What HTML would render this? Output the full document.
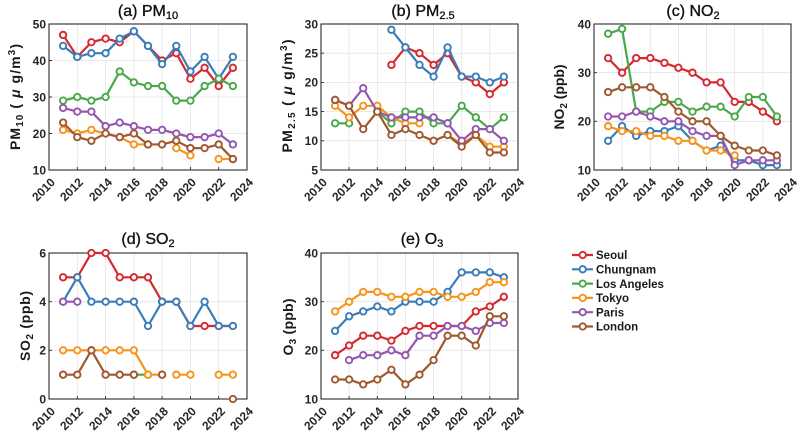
<!DOCTYPE html>
<html><head><meta charset="utf-8"><style>
html,body{margin:0;padding:0;background:#fff;}
#wrap{position:relative;width:800px;height:436px;overflow:hidden;}
svg{display:block;position:absolute;left:0;top:0;font-family:"Liberation Sans",Arial,sans-serif;}
.g{stroke:#e4e4e4;stroke-width:0.8;fill:none}
.ax{stroke:#2b2b2b;stroke-width:1.1;fill:none}
.tk{stroke:#2b2b2b;stroke-width:0.9;fill:none}
.yt{font-size:12px;font-weight:bold;fill:#262626;text-anchor:end}
.yl{font-size:14px;font-weight:bold;fill:#1a1a1a;text-anchor:middle}
.ti{font-size:16px;fill:#111;text-anchor:middle;stroke:#111;stroke-width:0.35}
.lg{font-size:11.5px;font-weight:bold;fill:#1a1a1a}
polyline{fill:none;stroke-width:2.2;stroke-linejoin:round;stroke-linecap:round}
.s1{stroke:#d7282f;marker-start:url(#m1);marker-mid:url(#m1);marker-end:url(#m1)}
.s2{stroke:#3a7db8;marker-start:url(#m2);marker-mid:url(#m2);marker-end:url(#m2)}
.s3{stroke:#4aa84a;marker-start:url(#m3);marker-mid:url(#m3);marker-end:url(#m3)}
.s4{stroke:#f7941d;marker-start:url(#m4);marker-mid:url(#m4);marker-end:url(#m4)}
.s5{stroke:#9457b0;marker-start:url(#m5);marker-mid:url(#m5);marker-end:url(#m5)}
.s6{stroke:#a0582f;marker-start:url(#m6);marker-mid:url(#m6);marker-end:url(#m6)}
.xl{position:absolute;width:40px;height:12px;line-height:12px;font-family:"Liberation Sans",Arial,sans-serif;font-size:12px;font-weight:bold;color:#262626;text-align:right;-webkit-transform-origin:40px 10.16px;transform-origin:40px 10.16px;-webkit-transform:rotate(-45deg);transform:rotate(-45deg);white-space:nowrap;}
.r1{top:172.84px}
.r2{top:401.84px}
</style></head><body>
<div id="wrap">
<svg width="800" height="436" viewBox="0 0 800 436" xmlns="http://www.w3.org/2000/svg">
<defs>
<marker id="m1" markerUnits="userSpaceOnUse" viewBox="-5 -5 10 10" refX="0" refY="0" markerWidth="10" markerHeight="10" overflow="visible"><circle r="3.2" fill="#fff" stroke="#d7282f" stroke-width="1.9"/></marker>
<marker id="m2" markerUnits="userSpaceOnUse" viewBox="-5 -5 10 10" refX="0" refY="0" markerWidth="10" markerHeight="10" overflow="visible"><circle r="3.2" fill="#fff" stroke="#3a7db8" stroke-width="1.9"/></marker>
<marker id="m3" markerUnits="userSpaceOnUse" viewBox="-5 -5 10 10" refX="0" refY="0" markerWidth="10" markerHeight="10" overflow="visible"><circle r="3.2" fill="#fff" stroke="#4aa84a" stroke-width="1.9"/></marker>
<marker id="m4" markerUnits="userSpaceOnUse" viewBox="-5 -5 10 10" refX="0" refY="0" markerWidth="10" markerHeight="10" overflow="visible"><circle r="3.2" fill="#fff" stroke="#f7941d" stroke-width="1.9"/></marker>
<marker id="m5" markerUnits="userSpaceOnUse" viewBox="-5 -5 10 10" refX="0" refY="0" markerWidth="10" markerHeight="10" overflow="visible"><circle r="3.2" fill="#fff" stroke="#9457b0" stroke-width="1.9"/></marker>
<marker id="m6" markerUnits="userSpaceOnUse" viewBox="-5 -5 10 10" refX="0" refY="0" markerWidth="10" markerHeight="10" overflow="visible"><circle r="3.2" fill="#fff" stroke="#a0582f" stroke-width="1.9"/></marker>
</defs>

<!-- ===== Panel (a) PM10 ===== -->
<path class="g" d="M77.3 24V170M105.6 24V170M133.9 24V170M162.1 24V170M190.4 24V170M218.7 24V170M49 60.5H247M49 97H247M49 133.5H247"/>
<path class="tk" d="M77.3 170v-3M105.6 170v-3M133.9 170v-3M162.1 170v-3M190.4 170v-3M218.7 170v-3M49 60.5h3M49 97h3M49 133.5h3"/>
<rect class="ax" x="49" y="24" width="198" height="146"/>
<polyline class="s1" points="63.1,34.95 77.3,56.85 91.4,42.25 105.6,38.6 119.7,42.25 133.9,31.3 148,45.9 162.1,60.5 176.3,53.2 190.4,78.75 204.6,67.8 218.7,86.05 232.9,67.8"/>
<polyline class="s2" points="63.1,45.9 77.3,56.85 91.4,53.2 105.6,53.2 119.7,38.6 133.9,31.3 148,45.9 162.1,64.15 176.3,45.9 190.4,71.45 204.6,56.85 218.7,78.75 232.9,56.85"/>
<polyline class="s3" points="63.1,100.65 77.3,97 91.4,100.65 105.6,97 119.7,71.45 133.9,82.4 148,86.05 162.1,86.05 176.3,100.65 190.4,100.65 204.6,86.05 218.7,78.75 232.9,86.05"/>
<polyline class="s4" points="63.1,129.85 77.3,133.5 91.4,129.85 105.6,133.5 119.7,137.15 133.9,144.45 148,144.45"/>
<polyline class="s4" points="176.3,148.1 190.4,155.4"/>
<polyline class="s4" points="218.7,159.05 232.9,159.05"/>
<polyline class="s5" points="63.1,107.95 77.3,111.6 91.4,111.6 105.6,126.2 119.7,122.55 133.9,126.2 148,129.85 162.1,129.85 176.3,133.5 190.4,137.15 204.6,137.15 218.7,133.5 232.9,144.45"/>
<polyline class="s6" points="63.1,122.55 77.3,137.15 91.4,140.8 105.6,133.5 119.7,137.15 133.9,133.5 148,144.45 162.1,144.45 176.3,140.8 190.4,148.1 204.6,148.1 218.7,144.45 232.9,159.05"/>
<text class="yt" x="46" y="174.3">10</text><text class="yt" x="46" y="137.8">20</text><text class="yt" x="46" y="101.3">30</text><text class="yt" x="46" y="64.8">40</text><text class="yt" x="46" y="28.3">50</text>
<text class="ti" x="148" y="16">(a) PM<tspan font-size="11" dy="3">10</tspan></text>
<text class="yl" transform="translate(20,97) rotate(-90)" textLength="106" lengthAdjust="spacing">PM<tspan font-size="10" dy="3">10</tspan><tspan dy="-3"> ( </tspan><tspan font-style="italic">μ</tspan> g/m<tspan font-size="10" dy="-5">3</tspan><tspan dy="5">)</tspan></text>

<!-- ===== Panel (b) PM2.5 ===== -->
<path class="g" d="M349.1 24V170M377.3 24V170M405.4 24V170M433.6 24V170M461.7 24V170M489.8 24V170M321 53.2H518M321 82.4H518M321 111.6H518M321 140.8H518"/>
<path class="tk" d="M349.1 170v-3M377.3 170v-3M405.4 170v-3M433.6 170v-3M461.7 170v-3M489.8 170v-3M321 53.2h3M321 82.4h3M321 111.6h3M321 140.8h3"/>
<rect class="ax" x="321" y="24" width="197" height="146"/>
<polyline class="s1" points="391.4,64.9 405.4,47.4 419.5,53.2 433.6,64.9 447.6,53.2 461.7,76.6 475.8,82.4 489.8,94.1 503.9,82.4"/>
<polyline class="s2" points="391.4,29.8 405.4,47.4 419.5,64.9 433.6,76.6 447.6,47.4 461.7,76.6 475.8,76.6 489.8,82.4 503.9,76.6"/>
<polyline class="s3" points="335.1,123.3 349.1,123.3"/>
<polyline class="s3" points="377.3,111.6 391.4,123.3 405.4,111.6 419.5,111.6 433.6,123.3 447.6,123.3 461.7,105.8 475.8,117.4 489.8,129.1 503.9,117.4"/>
<polyline class="s4" points="335.1,105.8 349.1,117.4 363.2,105.8 377.3,105.8 391.4,117.4 405.4,123.3 419.5,123.3"/>
<polyline class="s4" points="447.6,135 461.7,143.7 475.8,135 489.8,146.6 503.9,146.6"/>
<polyline class="s5" points="335.1,99.9 349.1,105.8 363.2,88.2 377.3,111.6 391.4,117.4 405.4,117.4 419.5,117.4 433.6,117.4 447.6,123.3 461.7,140.8 475.8,129.1 489.8,129.1 503.9,140.8"/>
<polyline class="s6" points="335.1,99.9 349.1,105.8 363.2,129.1 377.3,111.6 391.4,135 405.4,129.1 419.5,135 433.6,140.8 447.6,135 461.7,146.6 475.8,135 489.8,152.5 503.9,152.5"/>
<text class="yt" x="318" y="174.3">5</text><text class="yt" x="318" y="145.1">10</text><text class="yt" x="318" y="115.9">15</text><text class="yt" x="318" y="86.7">20</text><text class="yt" x="318" y="57.5">25</text><text class="yt" x="318" y="28.3">30</text>
<text class="ti" x="423" y="16">(b) PM<tspan font-size="11" dy="3">2.5</tspan></text>
<text class="yl" transform="translate(292,96) rotate(-90)" textLength="113" lengthAdjust="spacing">PM<tspan font-size="10" dy="3">2.5</tspan><tspan dy="-3"> ( </tspan><tspan font-style="italic">μ</tspan> g/m<tspan font-size="10" dy="-5">3</tspan><tspan dy="5">)</tspan></text>

<!-- ===== Panel (c) NO2 ===== -->
<path class="g" d="M622.1 24V170M650.3 24V170M678.4 24V170M706.6 24V170M734.7 24V170M762.8 24V170M594 72.7H791M594 121.3H791"/>
<path class="tk" d="M622.1 170v-3M650.3 170v-3M678.4 170v-3M706.6 170v-3M734.7 170v-3M762.8 170v-3M594 72.7h3M594 121.3h3"/>
<rect class="ax" x="594" y="24" width="197" height="146"/>
<polyline class="s1" points="608.1,58.1 622.1,72.7 636.2,58.1 650.3,58.1 664.4,62.9 678.4,67.8 692.5,72.7 706.6,82.4 720.6,82.4 734.7,101.9 748.8,101.9 762.8,111.6 776.9,121.3"/>
<polyline class="s2" points="608.1,140.8 622.1,126.2 636.2,135.9 650.3,131.1 664.4,131.1 678.4,126.2 692.5,140.8 706.6,150.5 720.6,145.7 734.7,160.3 748.8,160.3 762.8,165.1 776.9,165.1"/>
<polyline class="s3" points="608.1,33.7 622.1,28.9 636.2,111.6 650.3,111.6 664.4,101.9 678.4,101.9 692.5,111.6 706.6,106.7 720.6,106.7 734.7,116.5 748.8,97 762.8,97 776.9,116.5"/>
<polyline class="s4" points="608.1,126.2 622.1,131.1 636.2,131.1 650.3,135.9 664.4,135.9 678.4,140.8 692.5,140.8 706.6,150.5 720.6,150.5 734.7,155.4"/>
<polyline class="s5" points="608.1,116.5 622.1,116.5 636.2,111.6 650.3,116.5 664.4,121.3 678.4,121.3 692.5,131.1 706.6,135.9 720.6,135.9 734.7,165.1 748.8,160.3 762.8,160.3 776.9,160.3"/>
<polyline class="s6" points="608.1,92.1 622.1,87.3 636.2,87.3 650.3,87.3 664.4,97 678.4,111.6 692.5,121.3 706.6,121.3 720.6,135.9 734.7,145.7 748.8,150.5 762.8,150.5 776.9,155.4"/>
<text class="yt" x="591" y="174.3">10</text><text class="yt" x="591" y="125.6">20</text><text class="yt" x="591" y="77">30</text><text class="yt" x="591" y="28.3">40</text>
<text class="ti" x="693" y="16">(c) NO<tspan font-size="11" dy="3">2</tspan></text>
<text class="yl" transform="translate(564,97) rotate(-90)" textLength="65" lengthAdjust="spacing">NO<tspan font-size="10" dy="3">2</tspan><tspan dy="-3"> (ppb)</tspan></text>

<!-- ===== Panel (d) SO2 ===== -->
<path class="g" d="M77.3 253V399M105.6 253V399M133.9 253V399M162.1 253V399M190.4 253V399M218.7 253V399M49 301.7H247M49 350.3H247"/>
<path class="tk" d="M77.3 399v-3M105.6 399v-3M133.9 399v-3M162.1 399v-3M190.4 399v-3M218.7 399v-3M49 301.7h3M49 350.3h3"/>
<rect class="ax" x="49" y="253" width="198" height="146"/>
<polyline class="s1" points="63.1,277.3 77.3,277.3 91.4,253 105.6,253 119.7,277.3 133.9,277.3 148,277.3 162.1,301.7 176.3,301.7 190.4,326 204.6,326 218.7,326 232.9,326"/>
<polyline class="s2" points="63.1,301.7 77.3,277.3 91.4,301.7 105.6,301.7 119.7,301.7 133.9,301.7 148,326 162.1,301.7 176.3,301.7 190.4,326 204.6,301.7 218.7,326 232.9,326"/>
<polyline class="s3" points="133.9,374.7 148,374.7"/>
<polyline class="s4" points="63.1,350.3 77.3,350.3 91.4,350.3 105.6,350.3 119.7,350.3 133.9,350.3 148,374.7 162.1,374.7"/>
<polyline class="s4" points="176.3,374.7 190.4,374.7"/>
<polyline class="s4" points="218.7,374.7 232.9,374.7"/>
<polyline class="s5" points="63.1,301.7 77.3,301.7"/>
<polyline class="s6" points="63.1,374.7 77.3,374.7 91.4,350.3 105.6,374.7 119.7,374.7 133.9,374.7"/>
<circle cx="162.1" cy="374.7" r="3.2" fill="#fff" stroke="#a0582f" stroke-width="1.9"/>
<circle cx="232.9" cy="399" r="3.2" fill="#fff" stroke="#a0582f" stroke-width="1.9"/>
<text class="yt" x="46" y="403.3">0</text><text class="yt" x="46" y="354.6">2</text><text class="yt" x="46" y="306">4</text><text class="yt" x="46" y="257.3">6</text>
<text class="ti" x="148" y="244">(d) SO<tspan font-size="11" dy="3">2</tspan></text>
<text class="yl" transform="translate(30,326) rotate(-90)" textLength="70" lengthAdjust="spacing">SO<tspan font-size="10" dy="3">2</tspan><tspan dy="-3"> (ppb)</tspan></text>

<!-- ===== Panel (e) O3 ===== -->
<path class="g" d="M349.1 253V399M377.3 253V399M405.4 253V399M433.6 253V399M461.7 253V399M489.8 253V399M321 301.7H518M321 350.3H518"/>
<path class="tk" d="M349.1 399v-3M377.3 399v-3M405.4 399v-3M433.6 399v-3M461.7 399v-3M489.8 399v-3M321 301.7h3M321 350.3h3"/>
<rect class="ax" x="321" y="253" width="197" height="146"/>
<polyline class="s1" points="335.1,355.2 349.1,345.5 363.2,335.7 377.3,335.7 391.4,340.6 405.4,330.9 419.5,326 433.6,326 447.6,326 461.7,326 475.8,311.4 489.8,306.5 503.9,296.8"/>
<polyline class="s2" points="335.1,330.9 349.1,316.3 363.2,311.4 377.3,306.5 391.4,311.4 405.4,301.7 419.5,301.7 433.6,301.7 447.6,291.9 461.7,272.4 475.8,272.4 489.8,272.4 503.9,277.3"/>
<polyline class="s4" points="335.1,311.4 349.1,301.7 363.2,291.9 377.3,291.9 391.4,296.8 405.4,296.8 419.5,291.9 433.6,291.9 447.6,296.8 461.7,296.8 475.8,291.9 489.8,282.2 503.9,282.2"/>
<polyline class="s5" points="349.1,360.1 363.2,355.2 377.3,355.2 391.4,350.3 405.4,355.2 419.5,335.7 433.6,335.7 447.6,326 461.7,326 475.8,330.9 489.8,323 503.9,323"/>
<polyline class="s6" points="335.1,379.5 349.1,379.5 363.2,384.4 377.3,379.5 391.4,369.8 405.4,384.4 419.5,374.7 433.6,360.1 447.6,335.7 461.7,335.7 475.8,345.5 489.8,316.3 503.9,316.3"/>
<text class="yt" x="318" y="403.3">10</text><text class="yt" x="318" y="354.6">20</text><text class="yt" x="318" y="306">30</text><text class="yt" x="318" y="257.3">40</text>
<text class="ti" x="422" y="244">(e) O<tspan font-size="11" dy="3">3</tspan></text>
<text class="yl" transform="translate(293,327) rotate(-90)" textLength="57" lengthAdjust="spacing">O<tspan font-size="10" dy="3">3</tspan><tspan dy="-3"> (ppb)</tspan></text>

<!-- ===== Legend ===== -->
<g>
<line x1="572" y1="255" x2="593" y2="255" stroke="#d7282f" stroke-width="2.2"/><circle cx="582.7" cy="255" r="3.2" fill="#fff" stroke="#d7282f" stroke-width="1.9"/><text class="lg" x="596" y="259.2">Seoul</text>
<line x1="572" y1="269.3" x2="593" y2="269.3" stroke="#3a7db8" stroke-width="2.2"/><circle cx="582.7" cy="269.3" r="3.2" fill="#fff" stroke="#3a7db8" stroke-width="1.9"/><text class="lg" x="596" y="273.5">Chungnam</text>
<line x1="572" y1="283.6" x2="593" y2="283.6" stroke="#4aa84a" stroke-width="2.2"/><circle cx="582.7" cy="283.6" r="3.2" fill="#fff" stroke="#4aa84a" stroke-width="1.9"/><text class="lg" x="596" y="287.8">Los Angeles</text>
<line x1="572" y1="297.9" x2="593" y2="297.9" stroke="#f7941d" stroke-width="2.2"/><circle cx="582.7" cy="297.9" r="3.2" fill="#fff" stroke="#f7941d" stroke-width="1.9"/><text class="lg" x="596" y="302.1">Tokyo</text>
<line x1="572" y1="312.2" x2="593" y2="312.2" stroke="#9457b0" stroke-width="2.2"/><circle cx="582.7" cy="312.2" r="3.2" fill="#fff" stroke="#9457b0" stroke-width="1.9"/><text class="lg" x="596" y="316.4">Paris</text>
<line x1="572" y1="326.5" x2="593" y2="326.5" stroke="#a0582f" stroke-width="2.2"/><circle cx="582.7" cy="326.5" r="3.2" fill="#fff" stroke="#a0582f" stroke-width="1.9"/><text class="lg" x="596" y="330.7">London</text>
</g>
</svg>

<!-- x tick labels, row 1 -->
<div class="xl r1" style="left:16px">2010</div>
<div class="xl r1" style="left:44.3px">2012</div>
<div class="xl r1" style="left:72.6px">2014</div>
<div class="xl r1" style="left:100.9px">2016</div>
<div class="xl r1" style="left:129.1px">2018</div>
<div class="xl r1" style="left:157.4px">2020</div>
<div class="xl r1" style="left:185.7px">2022</div>
<div class="xl r1" style="left:214px">2024</div>

<div class="xl r1" style="left:288px">2010</div>
<div class="xl r1" style="left:316.1px">2012</div>
<div class="xl r1" style="left:344.3px">2014</div>
<div class="xl r1" style="left:372.4px">2016</div>
<div class="xl r1" style="left:400.6px">2018</div>
<div class="xl r1" style="left:428.7px">2020</div>
<div class="xl r1" style="left:456.8px">2022</div>
<div class="xl r1" style="left:485px">2024</div>

<div class="xl r1" style="left:561px">2010</div>
<div class="xl r1" style="left:589.1px">2012</div>
<div class="xl r1" style="left:617.3px">2014</div>
<div class="xl r1" style="left:645.4px">2016</div>
<div class="xl r1" style="left:673.6px">2018</div>
<div class="xl r1" style="left:701.7px">2020</div>
<div class="xl r1" style="left:729.8px">2022</div>
<div class="xl r1" style="left:758px">2024</div>

<!-- x tick labels, row 2 -->
<div class="xl r2" style="left:16px">2010</div>
<div class="xl r2" style="left:44.3px">2012</div>
<div class="xl r2" style="left:72.6px">2014</div>
<div class="xl r2" style="left:100.9px">2016</div>
<div class="xl r2" style="left:129.1px">2018</div>
<div class="xl r2" style="left:157.4px">2020</div>
<div class="xl r2" style="left:185.7px">2022</div>
<div class="xl r2" style="left:214px">2024</div>

<div class="xl r2" style="left:288px">2010</div>
<div class="xl r2" style="left:316.1px">2012</div>
<div class="xl r2" style="left:344.3px">2014</div>
<div class="xl r2" style="left:372.4px">2016</div>
<div class="xl r2" style="left:400.6px">2018</div>
<div class="xl r2" style="left:428.7px">2020</div>
<div class="xl r2" style="left:456.8px">2022</div>
<div class="xl r2" style="left:485px">2024</div>
</div>
</body></html>
